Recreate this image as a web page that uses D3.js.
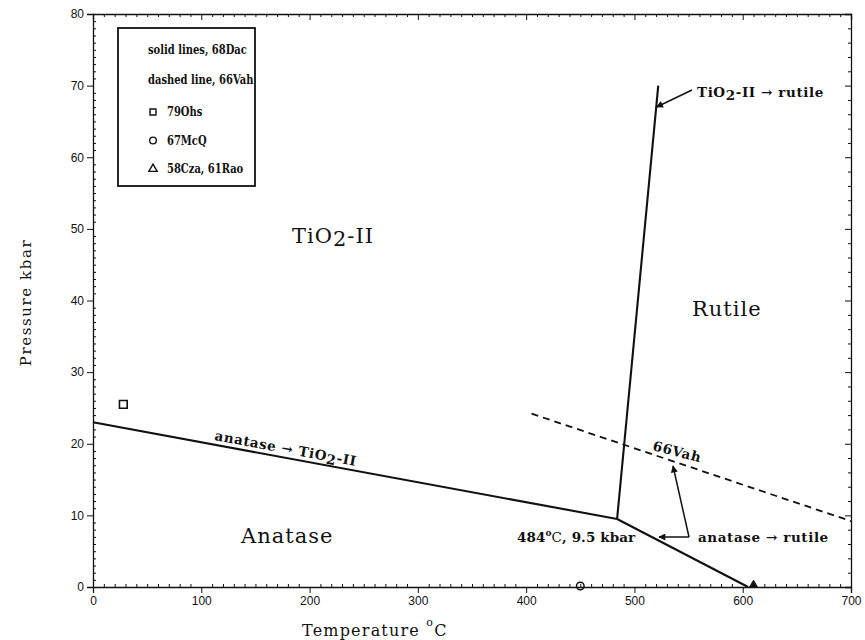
<!DOCTYPE html>
<html>
<head>
<meta charset="utf-8">
<script src="https://cdn.jsdelivr.net/npm/d3@7/dist/d3.min.js"></script>
<style>
  html, body { margin: 0; padding: 0; background: #fff; }
  svg { display: block; }
  .tick text { font-family: "Liberation Sans", Arial, sans-serif; font-size: 12px; fill: #111; }
  .domain, .tick line { stroke: #111; }
</style>
</head>
<body>
<svg id="chart" width="865" height="640"></svg>
<script>
// Phase boundaries of TiO2 (temperature in °C, pressure in kbar)
const anataseTiO2II = [[0, 23.0], [484, 9.5]];
const anataseRutile = [[484, 9.5], [605, 0]];
const tio2IIRutile = [[484, 9.5], [522, 70]];
const vahBoundary = [[405, 24.2], [700, 9.2]];

// Experimental points
const ohsPoints = [[28, 25.5]];
const mcqPoints = [[450, 0]];
const czaPoints = [[610, 0]];

// Axis ticks
const xMajor = [0, 100, 200, 300, 400, 500, 600, 700];
const yMajor = [0, 10, 20, 30, 40, 50, 60, 70, 80];
const xMinor = d3.range(0, 701, 10).filter(v => v % 100 !== 0);
const yMinorLeft = d3.range(0, 81, 1).filter(v => v % 10 !== 0);
const yMinorRight = d3.range(0, 81, 2).filter(v => v % 10 !== 0);

// Legend entries
const legendLines = ["solid lines, 68Dac", "dashed line, 66Vah"];
const legendMarkers = [
  { symbol: d3.symbolSquare, label: "79Ohs" },
  { symbol: d3.symbolCircle, label: "67McQ" },
  { symbol: d3.symbolTriangle, label: "58Cza, 61Rao" }
];

const svg = d3.select("#chart");
const x = d3.scaleLinear().domain([0, 700]).range([93, 851]);
const y = d3.scaleLinear().domain([0, 80]).range([587, 14]);

const serif = "'DejaVu Serif', serif";

// Arrowhead marker
svg.append("defs").append("marker")
  .attr("id", "arrow")
  .attr("viewBox", "0 0 10 10")
  .attr("refX", 9).attr("refY", 5)
  .attr("markerWidth", 10).attr("markerHeight", 7)
  .attr("markerUnits", "userSpaceOnUse")
  .attr("orient", "auto")
  .append("path").attr("d", "M0,0 L10,5 L0,10 z").attr("fill", "#111");

// Axes
const gB = svg.append("g").attr("transform", `translate(0,${y(0)})`);
gB.call(d3.axisBottom(x).tickValues(xMajor).tickFormat(d3.format("d")).tickSize(6).tickPadding(3));
gB.append("g").call(d3.axisBottom(x).tickValues(xMinor).tickSize(-3).tickFormat(""))
  .select(".domain").remove();

const gT = svg.append("g").attr("transform", `translate(0,${y(80)})`);
gT.call(d3.axisTop(x).tickValues(xMajor).tickSize(-6).tickFormat(""));
gT.append("g").call(d3.axisTop(x).tickValues(xMinor).tickSize(-3).tickFormat(""))
  .select(".domain").remove();

const gL = svg.append("g").attr("transform", `translate(${x(0)},0)`);
gL.call(d3.axisLeft(y).tickValues(yMajor).tickFormat(d3.format("d")).tickSize(6).tickPadding(3));
gL.append("g").call(d3.axisLeft(y).tickValues(yMinorLeft).tickSize(-3).tickFormat(""))
  .select(".domain").remove();

const gR = svg.append("g").attr("transform", `translate(${x(700)},0)`);
gR.call(d3.axisRight(y).tickValues(yMajor).tickSize(-6).tickFormat(""));
gR.append("g").call(d3.axisRight(y).tickValues(yMinorRight).tickSize(-3).tickFormat(""))
  .select(".domain").remove();

svg.selectAll(".domain").attr("stroke-width", 1.3);

// Axis titles
svg.append("text")
  .attr("transform", `translate(31,${(y(0) + y(80)) / 2 + 2}) rotate(-90)`)
  .attr("text-anchor", "middle")
  .attr("font-family", serif).attr("font-size", 15).attr("letter-spacing", 1.6)
  .attr("fill", "#111")
  .text("Pressure kbar");

const xt = svg.append("text")
  .attr("x", 302).attr("y", 636)
  .attr("font-family", serif).attr("font-size", 16).attr("letter-spacing", 1.2)
  .attr("fill", "#111");
xt.append("tspan").text("Temperature ");
xt.append("tspan").attr("font-size", 11).attr("dy", -10).text("o");
xt.append("tspan").attr("dy", 10).text("C");

// Phase boundaries
const line = d3.line().x(d => x(d[0])).y(d => y(d[1]));
[anataseTiO2II, anataseRutile, tio2IIRutile].forEach(seg => {
  svg.append("path").datum(seg).attr("d", line)
    .attr("fill", "none").attr("stroke", "#111").attr("stroke-width", 2.1);
});
svg.append("path").datum(vahBoundary).attr("d", line)
  .attr("fill", "none").attr("stroke", "#111").attr("stroke-width", 1.8)
  .attr("stroke-dasharray", "7,5");

// Experimental points
const sym = (type, size) => d3.symbol().type(type).size(size)();
svg.selectAll(".ohs").data(ohsPoints).join("path")
  .attr("transform", d => `translate(${x(d[0])},${y(d[1])})`)
  .attr("d", sym(d3.symbolSquare, 60))
  .attr("fill", "none").attr("stroke", "#111").attr("stroke-width", 1.6);
svg.selectAll(".mcq").data(mcqPoints).join("path")
  .attr("transform", d => `translate(${x(d[0])},${y(d[1]) - 1})`)
  .attr("d", sym(d3.symbolCircle, 45))
  .attr("fill", "none").attr("stroke", "#111").attr("stroke-width", 1.5);
svg.selectAll(".cza").data(czaPoints).join("path")
  .attr("transform", d => `translate(${x(d[0])},${y(d[1]) - 2})`)
  .attr("d", sym(d3.symbolTriangle, 30))
  .attr("fill", "#111").attr("stroke", "#111").attr("stroke-width", 1);

// Phase field labels
const big = (tx, ty, parts) => {
  const t = svg.append("text").attr("x", tx).attr("y", ty)
    .attr("font-family", serif).attr("font-size", 21).attr("letter-spacing", 1)
    .attr("fill", "#111");
  parts.forEach(p => t.append("tspan").attr("dy", p.dy || 0).text(p.s));
};
big(292, 243, [{ s: "TiO" }, { s: "2", dy: 3 }, { s: "-II", dy: -3 }]);
big(692, 316, [{ s: "Rutile" }]);
big(241, 543, [{ s: "Anatase" }]);

// Boundary annotations
const annot = (tx, ty, angle, parts, spacing) => {
  const t = svg.append("text")
    .attr("transform", `translate(${tx},${ty}) rotate(${angle})`)
    .attr("font-family", serif).attr("font-weight", "bold")
    .attr("font-size", 13.5).attr("letter-spacing", spacing === undefined ? 0.6 : spacing)
    .attr("fill", "#111");
  parts.forEach(p => {
    const s = t.append("tspan").text(p.s);
    if (p.dy) s.attr("dy", p.dy);
    if (p.fs) s.attr("font-size", p.fs);
    if (p.fw) s.attr("font-weight", p.fw);
  });
  return t;
};
const lineAngle = seg => Math.atan2(y(seg[1][1]) - y(seg[0][1]), x(seg[1][0]) - x(seg[0][0])) * 180 / Math.PI;

annot(214, 440, lineAngle(anataseTiO2II),
  [{ s: "anatase → TiO" }, { s: "2", dy: 3 }, { s: "-II", dy: -3 }]);
annot(652, 450, lineAngle(vahBoundary) - 4, [{ s: "66Vah" }]);
annot(697, 97, 0, [{ s: "TiO" }, { s: "2", dy: 3 }, { s: "-II → rutile", dy: -3 }]);
annot(698, 542, 0, [{ s: "anatase → rutile" }]);
annot(517, 542, 0, [{ s: "484" }, { s: "o", dy: -6, fs: 9 }, { s: "C", dy: 6, fw: "normal" }, { s: ", 9.5 kbar" }], 0.1);

// Annotation arrows
const arrow = (x1, y1, x2, y2) => svg.append("line")
  .attr("x1", x1).attr("y1", y1).attr("x2", x2).attr("y2", y2)
  .attr("stroke", "#111").attr("stroke-width", 1.5)
  .attr("marker-end", "url(#arrow)");
arrow(692, 90, x(520) + 0.5, 107);
arrow(689, 537, 659, 537);
arrow(689, 537, 673, 466);

// Legend (narrowed bold serif text)
const lg = svg.append("g");
lg.append("rect").attr("x", 118).attr("y", 28).attr("width", 137).attr("height", 158)
  .attr("fill", "#fff").attr("stroke", "#111").attr("stroke-width", 1.8);
const legendText = (tx, ty, s) => lg.append("text")
  .attr("transform", `translate(${tx},${ty}) scale(0.83,1)`)
  .attr("font-family", serif).attr("font-weight", "bold").attr("font-size", 12)
  .attr("fill", "#111").text(s);
legendLines.forEach((s, i) => legendText(148, 54 + i * 30, s));
legendMarkers.forEach((m, i) => {
  const yy = 112 + i * 28.5;
  lg.append("path").attr("transform", `translate(153,${yy})`)
    .attr("d", sym(m.symbol, m.symbol === d3.symbolTriangle ? 30 : 35))
    .attr("fill", "none").attr("stroke", "#111").attr("stroke-width", 1.4);
  legendText(167, yy + 4, m.label);
});
</script>
</body>
</html>
